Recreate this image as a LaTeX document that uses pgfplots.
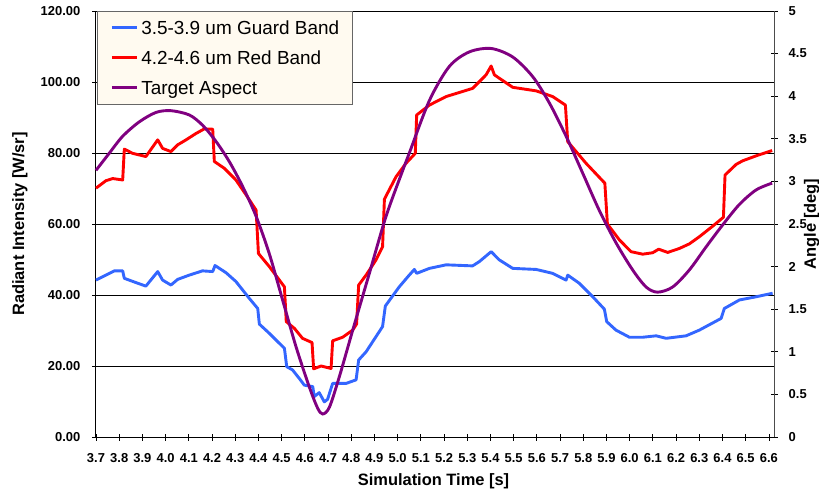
\documentclass[border=0pt]{standalone}
\usepackage{pgfplots}
\pgfplotsset{compat=1.18}
\usepackage{fontspec}
\setmainfont{Liberation Sans}
\definecolor{guard}{RGB}{51,102,255}
\definecolor{redband}{RGB}{255,0,0}
\definecolor{aspect}{RGB}{128,0,128}
\definecolor{legfill}{RGB}{255,250,240}
\begin{document}
\begin{tikzpicture}
\useasboundingbox (-96bp,-56bp) rectangle (723bp,437bp);
\pgfplotsset{
  common/.style={
    scale only axis, width=678bp, height=426bp,
    xmin=3.7, xmax=6.622,
    /pgf/number format/assume math mode=true,
    tick align=center, major tick length=7bp,
    tick style={black, line width=0.8bp},
    ticklabel style={font=\fontsize{13}{15}\selectfont\bfseries, inner sep=0pt},
    clip=false,
  }
}
\begin{axis}[common,
  at={(0,0)}, anchor=south west,
  axis x line*=bottom, axis y line*=left,
  axis line style={black, line width=1bp},
  ymin=0, ymax=120,
  ytick={0,20,40,60,80,100,120},
  yticklabels={0.00,20.00,40.00,60.00,80.00,100.00,120.00},
  xtick={3.7,3.8,3.9,4.0,4.1,4.2,4.3,4.4,4.5,4.6,4.7,4.8,4.9,5.0,5.1,5.2,5.3,5.4,5.5,5.6,5.7,5.8,5.9,6.0,6.1,6.2,6.3,6.4,6.5,6.6},
  xticklabels={3.7,3.8,3.9,4.0,4.1,4.2,4.3,4.4,4.5,4.6,4.7,4.8,4.9,5.0,5.1,5.2,5.3,5.4,5.5,5.6,5.7,5.8,5.9,6.0,6.1,6.2,6.3,6.4,6.5,6.6},
  xticklabel style={anchor=north, yshift=-13bp},
  yticklabel style={anchor=east, xshift=-12bp},
  ymajorgrids, grid style={black, line width=0.7bp},
  xlabel={Simulation Time [s]},
  ylabel={Radiant Intensity [W/sr]},
  xlabel style={at={(axis description cs:0.4978,-0.1033)}, anchor=center, font=\fontsize{16.5}{18}\selectfont\bfseries},
  ylabel style={at={(axis description cs:-0.1121,0.5)}, anchor=center, rotate=0, font=\fontsize{16.5}{18}\selectfont\bfseries},
]
\addplot[guard, line width=2.9bp, line join=round] coordinates {
(3.700,44.2) (3.743,45.6) (3.779,46.8) (3.815,46.8) (3.822,44.7) (3.872,43.5)
(3.915,42.5) (3.966,46.6) (3.987,44.2) (4.023,42.8) (4.052,44.4) (4.102,45.6)
(4.159,46.8) (4.203,46.6) (4.213,48.3) (4.260,46.3) (4.303,43.8) (4.360,39.1)
(4.397,36.2) (4.404,31.8) (4.447,29.2) (4.476,27.3) (4.512,25.0) (4.522,19.8)
(4.547,18.9) (4.576,16.5) (4.598,14.6) (4.634,14.2) (4.641,11.4) (4.662,12.5)
(4.684,9.9) (4.698,10.6) (4.720,15.1) (4.778,15.1) (4.821,16.1) (4.832,21.7)
(4.864,24.0) (4.907,28.3) (4.935,31.1) (4.947,36.9) (5.007,42.3) (5.050,45.6)
(5.072,47.2) (5.082,46.1) (5.137,47.5) (5.209,48.5) (5.323,48.2) (5.352,49.4)
(5.403,52.2) (5.438,49.9) (5.496,47.5) (5.597,47.2) (5.668,46.1) (5.726,44.2)
(5.733,45.6) (5.783,43.3) (5.841,39.5) (5.891,36.0) (5.901,32.5) (5.941,30.1)
(5.999,28.1) (6.056,28.1) (6.114,28.5) (6.157,27.8) (6.243,28.5) (6.300,30.1)
(6.394,33.4) (6.408,36.2) (6.473,38.6) (6.545,39.5) (6.616,40.5)
};
\addplot[redband, line width=2.9bp, line join=round] coordinates {
(3.700,70.1) (3.743,72.2) (3.772,72.8) (3.815,72.4) (3.822,81.1) (3.858,79.9)
(3.915,79.0) (3.966,83.7) (3.987,81.3) (4.023,80.4) (4.052,82.3) (4.088,83.7)
(4.131,85.5) (4.167,86.8) (4.203,86.7) (4.210,77.6) (4.253,75.7) (4.303,72.4)
(4.347,68.2) (4.390,63.9) (4.400,51.7) (4.447,48.0) (4.512,42.3) (4.520,32.5)
(4.555,30.6) (4.590,27.8) (4.631,26.6) (4.638,19.2) (4.670,20.0) (4.713,19.3)
(4.720,27.1) (4.763,28.1) (4.806,30.1) (4.823,31.8) (4.832,42.8) (4.864,45.6)
(4.907,49.9) (4.935,53.6) (4.943,67.0) (4.993,73.3) (5.036,77.1) (5.076,79.9)
(5.082,90.7) (5.137,93.5) (5.209,95.9) (5.323,98.2) (5.381,102.0) (5.403,104.5)
(5.417,102.0) (5.496,98.5) (5.597,97.5) (5.668,95.9) (5.723,93.5) (5.733,83.2)
(5.812,77.1) (5.893,71.5) (5.904,60.0) (5.956,55.5) (6.006,52.2) (6.056,51.5)
(6.099,51.9) (6.125,52.9) (6.164,52.0) (6.214,53.1) (6.257,54.4) (6.300,56.4)
(6.358,59.4) (6.404,61.9) (6.411,73.8) (6.459,76.8) (6.487,77.8) (6.545,79.2)
(6.614,80.7)
};
\end{axis}
\begin{axis}[common,
  at={(0,0)}, anchor=south west,
  axis x line=none, axis y line*=right,
  axis line style={black!70, line width=1bp},
  ymin=0, ymax=5,
  ytick={0,0.5,1,1.5,2,2.5,3,3.5,4,4.5,5},
  yticklabels={0,0.5,1,1.5,2,2.5,3,3.5,4,4.5,5},
  yticklabel style={anchor=west, xshift=11bp},
  ylabel={Angle [deg]},
  ylabel style={at={(axis description cs:1.0556,0.5)}, anchor=center, rotate=0, font=\fontsize{16.5}{18}\selectfont\bfseries},
  legend cell align=left,
  legend image code/.code={\draw[#1] (0bp,0bp) -- (25bp,0bp);},
  legend style={at={(axis description cs:0.0015,1)}, anchor=north west,
    draw=black!60, line width=0.8bp, fill=legfill,
    font=\fontsize{19}{22}\selectfont,
    inner xsep=13bp, inner ysep=7bp, row sep=11bp, column sep=3bp,
    nodes={inner sep=0pt, text height=16bp, text depth=3bp}},
]
\addlegendimage{guard, line width=2.9bp}
\addlegendentry{3.5-3.9 um Guard Band}
\addlegendimage{redband, line width=2.9bp}
\addlegendentry{4.2-4.6 um Red Band}
\addplot[aspect, line width=2.9bp, smooth] coordinates {
(3.700,3.13) (3.757,3.33) (3.815,3.53) (3.887,3.70) (3.959,3.81) (4.023,3.83)
(4.102,3.78) (4.159,3.66) (4.217,3.47) (4.275,3.23) (4.332,2.94) (4.390,2.59)
(4.447,2.15) (4.504,1.61) (4.562,1.06) (4.619,0.59) (4.655,0.34) (4.677,0.27)
(4.706,0.35) (4.749,0.71) (4.806,1.25) (4.878,1.92) (4.950,2.59) (5.022,3.13)
(5.050,3.33) (5.137,3.95) (5.223,4.35) (5.309,4.52) (5.403,4.56) (5.496,4.46)
(5.582,4.23) (5.654,3.92) (5.726,3.53) (5.797,3.10) (5.869,2.66) (5.941,2.28)
(6.013,1.96) (6.071,1.76) (6.120,1.70) (6.185,1.76) (6.257,1.96) (6.329,2.23)
(6.401,2.49) (6.473,2.73) (6.545,2.90) (6.614,2.98)
};
\addlegendentry{Target Aspect}
\end{axis}
\end{tikzpicture}
\end{document}
